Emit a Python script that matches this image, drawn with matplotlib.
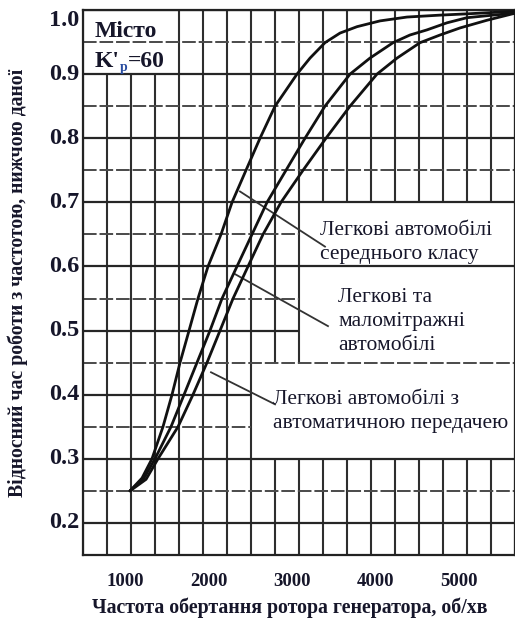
import numpy as np
import matplotlib.pyplot as plt
from matplotlib.transforms import offset_copy, ScaledTranslation

# values
x_ticks = [1000, 2000, 3000, 4000, 5000]
y_ticks = [0.2, 0.3, 0.4, 0.5, 0.6, 0.7, 0.8, 0.9, 1.0]

# passenger cars, middle class
rpm_mid = [1000, 1144, 1263, 1395, 1503, 1599, 1707, 1814, 1934, 2090, 2222,
           2389, 2557, 2737, 3000, 3156, 3335, 3515, 3719, 3994, 4317, 4713,
           5036, 5611]
share_mid = [0.25, 0.27, 0.30, 0.35, 0.40, 0.45, 0.50, 0.55, 0.60, 0.65, 0.70,
             0.75, 0.80, 0.85, 0.90, 0.925, 0.949, 0.964, 0.974, 0.983, 0.989, 0.992,
             0.994, 0.998]

# passenger and small cars
rpm_small = [1000, 1168, 1299, 1491, 1647, 1802, 1958, 2102, 2281, 2461, 2641,
             2868, 3096, 3335, 3635, 3874, 4150, 4353, 4557, 4796, 5036, 5347, 5611]
share_small = [0.25, 0.27, 0.30, 0.35, 0.40, 0.45, 0.50, 0.55, 0.60, 0.65, 0.70,
               0.75, 0.80, 0.85, 0.90, 0.925, 0.949, 0.961, 0.969, 0.980, 0.988,
               0.992, 0.995]

# cars with automatic transmission
rpm_auto = [1000, 1192, 1335, 1575, 1754, 1922, 2078, 2234, 2413, 2593, 2808,
            3072, 3347, 3635, 3958, 4198, 4473, 4713, 4952, 5275, 5611]
share_auto = [0.25, 0.268, 0.30, 0.35, 0.40, 0.45, 0.50, 0.55, 0.60, 0.65, 0.70,
              0.75, 0.80, 0.85, 0.90, 0.925, 0.949, 0.961, 0.972, 0.984, 0.995]

label_mid = "Легкові автомобілі\nсереднього класу"
label_small = "Легкові та\nмаломітражні\nавтомобілі"
label_auto = "Легкові автомобілі з\nавтоматичною передачею"

SERIF = "Liberation Serif"
INK = "#16162a"
X_MIN, X_MAX = 437, 5611
Y_MIN, Y_MAX = 0.15, 1.0


def free_spans(pos, lo, hi, boxes, vertical):
    """Parts of a grid line that are not covered by a label box."""
    spans = [(lo, hi)]
    for bx0, bx1, by0, by1 in boxes:
        if vertical:
            inside = bx0 + 1 < pos < bx1 - 1
            cut = (by0, by1)
        else:
            inside = by0 + 1e-4 < pos < by1 - 1e-4
            cut = (bx0, bx1)
        if not inside:
            continue
        kept = []
        for a, b in spans:
            if cut[1] <= a or cut[0] >= b:
                kept.append((a, b))
                continue
            if a < cut[0]:
                kept.append((a, cut[0]))
            if cut[1] < b:
                kept.append((cut[1], b))
        spans = kept
    return spans


fig = plt.figure(figsize=(5.15, 6.23), dpi=100)
ax = fig.add_axes([83 / 515, 68 / 623, 432 / 515, 545 / 623])
ax.set_xlim(X_MIN, X_MAX)
ax.set_ylim(Y_MIN, Y_MAX)

grid_x = np.linspace(X_MIN, X_MAX, 19)
grid_y = np.round(np.arange(0.15, 1.0001, 0.05), 2)
boxes = [
    (grid_x[0], grid_x[4], 0.95, 1.0),
    (grid_x[0], grid_x[4], 0.90, 0.95),
    (grid_x[9], grid_x[18], 0.60, 0.70),
    (grid_x[9], grid_x[18], 0.45, 0.60),
    (grid_x[7], grid_x[18], 0.30, 0.45),
]

for gx in grid_x:
    for a, b in free_spans(gx, Y_MIN, Y_MAX, boxes, vertical=True):
        ax.vlines(gx, a, b, color="#2e2e2e", lw=1.5, zorder=1)
for gy in grid_y:
    major = abs(gy * 10 - round(gy * 10)) < 1e-6
    for a, b in free_spans(gy, X_MIN, X_MAX, boxes, vertical=False):
        ax.hlines(gy, a, b, color="#262626" if major else "#4a4a4a",
                  lw=1.6 if major else 1.4, zorder=1,
                  linestyles="solid" if major else (0, (7, 1.5)))

for xs, ys in [(rpm_mid, share_mid), (rpm_small, share_small), (rpm_auto, share_auto)]:
    ax.plot(xs, ys, color="#111111", lw=2.0, solid_joinstyle="round",
            solid_capstyle="round", zorder=3)

# leader lines from the curves to the labels
ax.plot([2317, 3335], [0.717, 0.631], color="#333333", lw=1.3, zorder=2)
ax.plot([2245, 3371], [0.589, 0.507], color="#333333", lw=1.3, zorder=2)
ax.plot([1970, 2737], [0.435, 0.385], color="#333333", lw=1.3, zorder=2)

label_kw = dict(family=SERIF, fontsize=15.5, color=INK, ha="left", va="center",
                linespacing=1.38, zorder=4)
ax.text(3275, 0.637, label_mid, **label_kw)
ax.text(3491, 0.5144, label_small, **label_kw)
ax.text(2713, 0.3735, label_auto, **label_kw)

# "Місто" and K'р=60 in the top-left box
ax.text(581, 0.958, "Місто", family=SERIF, fontsize=17, weight="bold",
        color=INK, va="baseline", zorder=4)
k_txt = ax.text(581, 0.9113, "K'", family=SERIF, fontsize=17, weight="bold",
                color=INK, va="baseline", zorder=4)
renderer = fig.canvas.get_renderer()
k_w = k_txt.get_window_extent(renderer).width
sub = ax.text(581, 0.9113, "р", family=SERIF, fontsize=10, weight="bold",
              color="#2a4da0", va="baseline", zorder=4,
              transform=offset_copy(ax.transData, fig=fig, x=k_w, y=-4, units="dots"))
s_w = sub.get_window_extent(renderer).width
ax.text(581, 0.9113, "=60", family=SERIF, fontsize=17, weight="bold",
        color=INK, va="baseline", zorder=4,
        transform=offset_copy(ax.transData, fig=fig, x=k_w + s_w, y=0, units="dots"))

ax.set_xticks([])
ax.set_yticks([])
for side in ax.spines.values():
    side.set_color("#222222")
    side.set_linewidth(1.6)

shift = ScaledTranslation(-5 / 100, 0, fig.dpi_scale_trans)
for xv in x_ticks:
    ax.text(xv, -0.033, f"{xv}", family=SERIF, fontsize=13.5, weight="bold",
            color=INK, ha="center", va="top",
            transform=ax.get_xaxis_transform() + shift)
for yv in y_ticks:
    ax.text(-0.008, yv, f"{yv:.1f}", family=SERIF, fontsize=17.5, weight="bold",
            color=INK, ha="right", va="top" if yv == 1.0 else "center",
            transform=ax.get_yaxis_transform())

fig.text(290 / 515, 1 - 608 / 623, "Частота обертання ротора генератора, об/хв",
         family=SERIF, fontsize=14.3, weight="bold", color=INK, ha="center", va="center")
fig.text(18 / 515, 1 - 283 / 623, "Відносний час роботи з частотою, нижчою даної",
         family=SERIF, fontsize=14.2, weight="bold", color=INK, ha="center",
         va="center", rotation=90)

fig.savefig("out.png", dpi=100)
